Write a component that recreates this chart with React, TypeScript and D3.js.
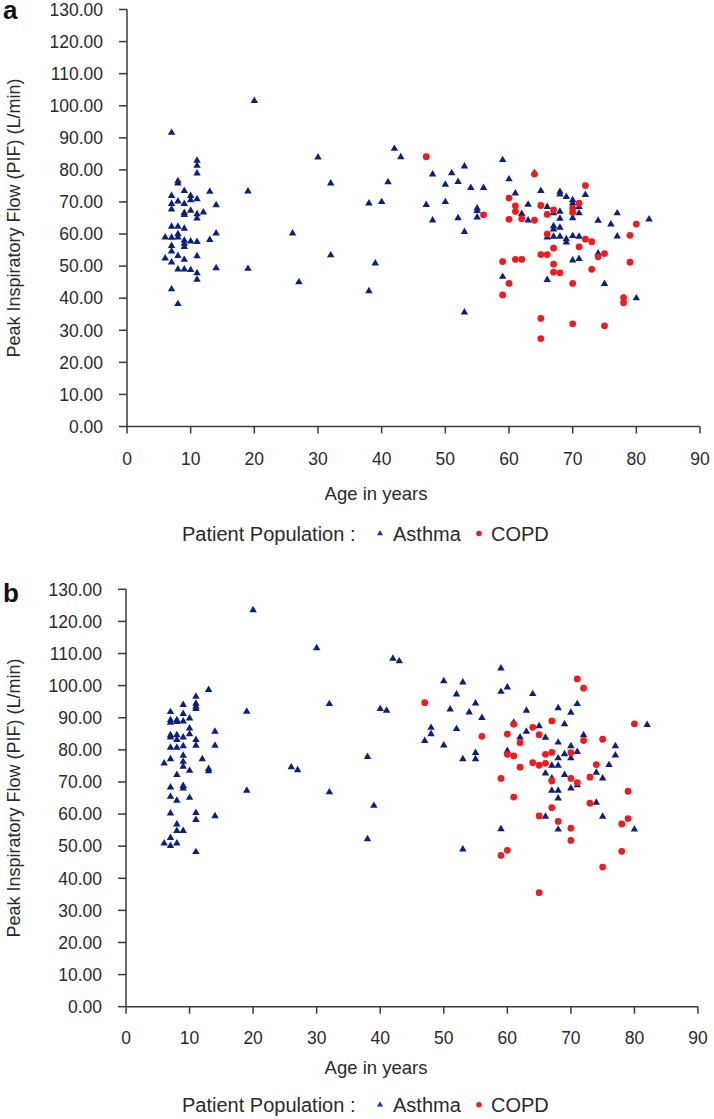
import React from "react";
import * as d3 from "d3";

// ---------- DATA ----------
const xTicks = [0, 10, 20, 30, 40, 50, 60, 70, 80, 90];
const yTicks = [0, 10, 20, 30, 40, 50, 60, 70, 80, 90, 100, 110, 120, 130];

// [age, PIF]
const asthmaA: [number, number][] = [
  [7, 91.6], [11, 82.9], [11, 81.3], [11, 78.9], [8, 76.5], [8, 75.8], [9, 73.5], [13, 73.2], [7, 71.9], [10, 71.9],
  [10, 70.6], [11, 70.9], [8, 70.2], [7, 69.4], [7, 67.7], [9, 69.4], [14, 69.0], [9, 66.6], [9, 66.0], [10, 67.3],
  [11, 66.2], [11, 64.9], [12, 66.8], [7, 62.3], [8, 62.3], [9, 61.7], [6, 59.0], [7, 58.9], [8, 60.0], [8, 59.0],
  [9, 58.0], [9, 57.0], [9, 56.0], [10, 57.7], [11, 57.6], [13, 58.2], [14, 60.2], [7, 56.3], [7, 54.6], [6, 52.4],
  [7, 51.2], [8, 53.2], [9, 52.0], [11, 53.1], [8, 49.0], [9, 49.0], [10, 48.8], [11, 47.8], [11, 45.8], [14, 49.4],
  [7, 42.8], [8, 38.2],
  [19, 73.3], [19, 49.2], [20, 101.5], [26, 60.2], [27, 45.0], [30, 83.9], [32, 75.8], [32, 53.4], [38, 69.6], [38, 42.2],
  [39, 50.9], [40, 70.0], [41, 76.2], [42, 86.6], [43, 84.0],
  [47, 69.1], [48, 78.6], [48, 64.3], [50, 75.4], [50, 70.0], [51, 79.0], [52, 76.3], [52, 65.0], [53, 81.1], [53, 60.7],
  [53, 35.6], [54, 74.4], [55, 68.0], [55, 67.2], [55, 65.2], [56, 74.4], [59, 83.1], [59, 46.7], [60, 77.1], [61, 72.7],
  [62, 66.3], [63, 69.2], [63, 64.3], [64, 79.0], [65, 73.5], [66, 68.5], [66, 59.0], [66, 45.7], [67, 66.5], [67, 62.5],
  [67, 61.5], [67, 59.2], [68, 73.2], [68, 72.4], [68, 67.0], [68, 64.8], [68, 62.0], [68, 59.2], [69, 71.6], [69, 58.4],
  [69, 57.4], [70, 70.6], [70, 69.6], [70, 65.0], [70, 59.4], [70, 51.8], [71, 68.5], [71, 66.5], [71, 59.2], [71, 52.3],
  [72, 72.2], [74, 64.2], [74, 54.0], [75, 44.5], [76, 63.0], [77, 66.5], [77, 59.3], [80, 40.0], [82, 64.6],
];

const copdA: [number, number][] = [
  [47, 84.1], [56, 66.0], [59, 51.4], [59, 41.0], [60, 71.2], [60, 64.6], [60, 44.6], [61, 68.8], [61, 67.0], [61, 52.1],
  [62, 64.8], [62, 52.1], [64, 78.7], [64, 64.3], [65, 68.9], [65, 53.6], [65, 33.7], [65, 27.4], [66, 66.1], [66, 60.0],
  [66, 53.6], [67, 67.5], [67, 55.6], [67, 50.6], [67, 48.1], [68, 47.9], [70, 68.0], [70, 66.7], [70, 44.6], [70, 32.0],
  [71, 69.6], [71, 56.0], [72, 75.1], [72, 58.4], [73, 57.6], [73, 49.0], [74, 52.9], [75, 53.9], [75, 31.4], [78, 40.2],
  [78, 38.6], [79, 59.6], [79, 51.2], [80, 63.1],
];

const asthmaB: [number, number][] = [
  [20, 123.5], [30, 111.7], [42, 108.4], [43, 107.6], [13, 98.7], [11, 96.6], [11, 94.4], [11, 93.5], [11, 92.8], [9, 94.0],
  [32, 94.3], [7, 91.8], [19, 91.9], [40, 92.8], [41, 92.2], [9, 91.2], [10, 89.8], [7, 89.3], [7, 88.5], [8, 89.3],
  [8, 88.7], [9, 88.9], [10, 86.7], [14, 85.7], [7, 84.6], [7, 83.9], [8, 84.6], [8, 83.1], [9, 83.9], [10, 84.9],
  [11, 83.1], [7, 80.7], [8, 80.7], [9, 81.2], [11, 81.3], [14, 81.3], [9, 78.2], [6, 75.8], [7, 77.1], [9, 76.3],
  [9, 74.8], [10, 73.5], [12, 77.1], [13, 74.1], [13, 73.4], [8, 72.2], [7, 68.3], [9, 68.8], [9, 68.0], [7, 65.4],
  [8, 64.2], [10, 65.1], [7, 60.2], [11, 60.4], [11, 58.2], [14, 59.4], [8, 56.8], [8, 54.8], [9, 54.8], [7, 52.6],
  [6, 50.9], [7, 50.1], [8, 50.9], [11, 48.2], [19, 67.3], [26, 74.6], [27, 73.7], [32, 66.8], [38, 77.8], [39, 62.6],
  [38, 52.2],
  [59, 105.4], [50, 101.4], [53, 101.0], [59, 98.1], [60, 99.5], [52, 97.3], [64, 97.4], [55, 94.5], [51, 92.6], [54, 91.7],
  [63, 92.2], [56, 90.0], [68, 93.0], [70, 91.6], [71, 94.3], [48, 86.9], [48, 84.9], [47, 82.8], [52, 86.5], [50, 81.4],
  [61, 88.5], [62, 83.9], [63, 85.7], [65, 87.4], [66, 83.8], [69, 88.0], [72, 84.6], [68, 82.3], [70, 81.2], [70, 77.4],
  [71, 79.4], [69, 78.7], [55, 79.1], [55, 77.1], [53, 77.1], [60, 79.7], [67, 75.1], [68, 75.1], [68, 77.4], [66, 72.7],
  [67, 71.1], [69, 72.2], [71, 69.0], [70, 68.0], [67, 67.3], [68, 67.3], [68, 64.9], [74, 72.9], [75, 71.1], [76, 75.3],
  [77, 81.2], [77, 78.3], [82, 87.8], [74, 63.6], [66, 59.2], [75, 59.2], [68, 55.2], [80, 55.2], [59, 55.3], [53, 49.0],
];

const copdB: [number, number][] = [
  [71, 102.1], [72, 99.2], [47, 94.7], [61, 88.0], [67, 89.0], [80, 88.1], [64, 87.0], [60, 84.9], [65, 84.7], [56, 84.2],
  [62, 82.2], [72, 82.9], [75, 83.3], [60, 78.6], [61, 78.1], [66, 78.6], [67, 79.2], [70, 79.1], [64, 76.0], [65, 75.2],
  [66, 75.8], [62, 74.6], [74, 75.4], [59, 71.1], [73, 71.5], [70, 71.1], [71, 69.8], [67, 70.3], [79, 67.1], [61, 65.3],
  [73, 63.4], [67, 62.0], [65, 59.4], [79, 58.6], [78, 56.9], [68, 57.7], [70, 55.6], [70, 51.8], [60, 48.7], [59, 47.1],
  [78, 48.4], [75, 43.5], [65, 35.5],
];

const yTitle = "Peak Inspiratory Flow (PIF) (L/min)";
const xTitle = "Age in years";
const legendTitle = "Patient Population :";
const seriesNames = ["Asthma", "COPD"];

// ---------- STYLE ----------
const FONT = "'Liberation Sans', Arial, sans-serif";
const TEXT = "#2a2a2a";
const AXIS = "#3a3a3a";
const NAVY = "#0b1f80";
const RED = "#f31a1e";

const triPath = d3.symbol(d3.symbolTriangle, 24)() as string;
const triLegend = d3.symbol(d3.symbolTriangle, 16)() as string;

type PanelProps = {
  label: string;
  x0: number; x1: number; yTop: number; yBot: number;
  asthma: [number, number][]; copd: [number, number][];
  tickLabelDy: number; titleDy: number; legendDy: number;
  labelBaseline: number;
};

function Panel(p: PanelProps) {
  const x = d3.scaleLinear().domain([0, 90]).range([p.x0, p.x1]);
  const y = d3.scaleLinear().domain([0, 130]).range([p.yBot, p.yTop]);
  const fmt = d3.format(".2f");
  const yMid = (p.yTop + p.yBot) / 2;
  const legendY = p.yBot + p.legendDy;
  return (
    <g>
      <text x={3} y={p.labelBaseline} fontFamily={FONT} fontWeight="bold" fontSize={26} fill="#111">{p.label}</text>
      {/* y axis */}
      <line x1={x(0)} x2={x(0)} y1={y(0)} y2={y(130)} stroke={AXIS} strokeWidth={1.5} />
      {yTicks.map((t) => (
        <g key={"y" + t}>
          <line x1={x(0) - 8} x2={x(0)} y1={y(t)} y2={y(t)} stroke={AXIS} strokeWidth={1.5} />
          <text x={x(0) - 24} y={y(t)} dy="0.36em" textAnchor="end" fontFamily={FONT} fontSize={17.5} fill={TEXT}>{fmt(t)}</text>
        </g>
      ))}
      {/* x axis */}
      <line x1={x(0)} x2={x(90)} y1={y(0)} y2={y(0)} stroke={AXIS} strokeWidth={1.5} />
      {xTicks.map((t) => (
        <g key={"x" + t}>
          <line x1={x(t)} x2={x(t)} y1={y(0)} y2={y(0) + 7} stroke={AXIS} strokeWidth={1.5} />
          <text x={x(t)} y={y(0) + p.tickLabelDy} dy="0.36em" textAnchor="middle" fontFamily={FONT} fontSize={17.5} fill={TEXT}>{t}</text>
        </g>
      ))}
      <text x={376} y={y(0) + p.titleDy} dy="0.36em" textAnchor="middle" fontFamily={FONT} fontSize={18.5} fill={TEXT}>{xTitle}</text>
      <text transform={`translate(14,${yMid}) rotate(-90)`} dy="0.36em" textAnchor="middle" fontFamily={FONT} fontSize={18} fill={TEXT}>{yTitle}</text>
      {/* points */}
      {p.asthma.map((d, i) => (
        <path key={"a" + i} d={triPath} transform={`translate(${x(d[0])},${y(d[1])})`} fill={NAVY} />
      ))}
      {p.copd.map((d, i) => (
        <circle key={"c" + i} cx={x(d[0])} cy={y(d[1])} r={3.4} fill={RED} />
      ))}
      {/* legend */}
      <text x={182} y={legendY} dy="0.36em" fontFamily={FONT} fontSize={20} fill={TEXT}>{legendTitle}</text>
      <path d={triLegend} transform={`translate(380,${legendY})`} fill="#1030c0" />
      <text x={393} y={legendY} dy="0.36em" fontFamily={FONT} fontSize={20} fill={TEXT}>{seriesNames[0]}</text>
      <circle cx={479} cy={legendY} r={2.8} fill={RED} />
      <text x={491} y={legendY} dy="0.36em" fontFamily={FONT} fontSize={20} fill={TEXT}>{seriesNames[1]}</text>
    </g>
  );
}

export default function App() {
  return (
    <svg width={714} height={1119} style={{ position: "absolute", left: 0, top: 0, background: "#fff" }}>
      <rect x={0} y={0} width={714} height={1119} fill="#fff" />
      <Panel label="a" x0={127} x1={700} yTop={9.5} yBot={426.5} asthma={asthmaA} copd={copdA}
        tickLabelDy={32} titleDy={67} legendDy={107} labelBaseline={18.5} />
      <Panel label="b" x0={126} x1={698} yTop={589.3} yBot={1006.7} asthma={asthmaB} copd={copdB}
        tickLabelDy={31} titleDy={61} legendDy={98} labelBaseline={601.5} />
    </svg>
  );
}
